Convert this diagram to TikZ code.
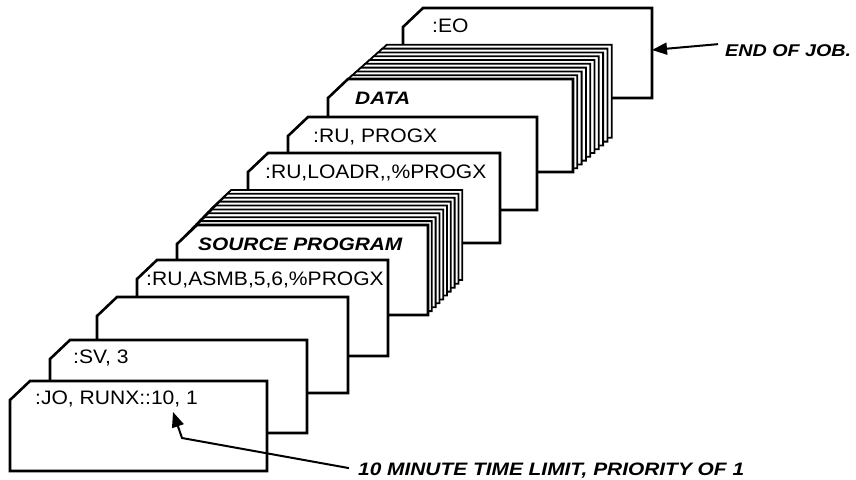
\documentclass[tikz,border=0pt]{standalone}
\usepackage{fontspec}
\setmainfont{Liberation Sans}
\newfontfamily\cardfont[FakeStretch=1.08]{Liberation Sans}
\newfontfamily\notefont[FakeStretch=1.16]{Liberation Sans}
\usetikzlibrary{arrows.meta}

% one punched card: left, top, right, bottom (top-left corner clipped)
\newcommand\punchcard[5][cardline]{%
  \path[#1] (#2,#3+19) -- (#2+20,#3) -- (#4,#3) -- (#4,#5) -- (#2,#5) -- cycle;}
% a deck: front card plus nine cards stacked behind it
\newcommand\carddeck[6]{%
  \foreach \k in {9,...,1}{%
    \begin{scope}[shift={(#5*\k,-#6*\k)}]
      \punchcard[deckline]{#1}{#2}{#3}{#4}
    \end{scope}}
  \punchcard{#1}{#2}{#3}{#4}}

\begin{document}
\begin{tikzpicture}[x=1pt,y=-1pt,
  cardline/.style={draw=black, fill=white, line width=2.6pt, line join=miter},
  deckline/.style={draw=black, fill=white, line width=1.8pt, line join=miter},
  cardtext/.style={anchor=base west, inner sep=0pt,
    font=\cardfont\fontsize{19.5}{22}\selectfont},
  boldtext/.style={anchor=base west, inner sep=0pt,
    font=\notefont\bfseries\itshape\fontsize{18}{20}\selectfont},
  pointer/.style={line width=2pt, -{Triangle[length=15pt,width=12pt]}}]
\useasboundingbox (0,0) rectangle (856,479);

% job deck, back to front
\punchcard{403}{8}{652}{98}
\node[cardtext] (eo) at (432,32) {:EO};

\carddeck{328}{79}{573}{172}{4.3}{3.8}
\node[boldtext] (data) at (355,104) {DATA};

\punchcard{288}{117}{537}{210}
\node[cardtext] (runprog) at (313,142) {:RU, PROGX};

\punchcard{248}{153}{500}{243}
\node[cardtext] (loadr) at (265,178) {:RU,LOADR,,\%PROGX};

\carddeck{177}{225}{428}{315}{3.8}{3.9}
\node[boldtext] (source) at (198,250) {SOURCE PROGRAM};

\punchcard{137}{260}{388}{356}
\node[cardtext] (asmb) at (146,285) {:RU,ASMB,5,6,\%PROGX};

\punchcard{97}{297}{348}{393}

\punchcard{50}{340}{307}{433}
\node[cardtext] (sv) at (73,363) {:SV, 3};

\punchcard{10}{381}{267}{471}
\node[cardtext] (jo) at (35,404) {:JO, RUNX::10, 1};

% callouts
\node[boldtext, font=\notefont\bfseries\itshape\fontsize{17}{20}\selectfont]
  (eoj) at (725,56) {END OF JOB.};
\coordinate (eoedge) at (652,50);
\draw[pointer] (eoj.west) ++(-7,-6) coordinate (eojstart) -- (eoedge);

\node[boldtext] (note) at (358,475) {10 MINUTE TIME LIMIT, PRIORITY OF 1};
\coordinate (bend) at (182,438);
\coordinate (tenmark) at (173,412);
\draw[pointer, line join=miter] (note.west) ++(-9,-2) coordinate (notestart) -- (bend) -- (tenmark);
\end{tikzpicture}
\end{document}
